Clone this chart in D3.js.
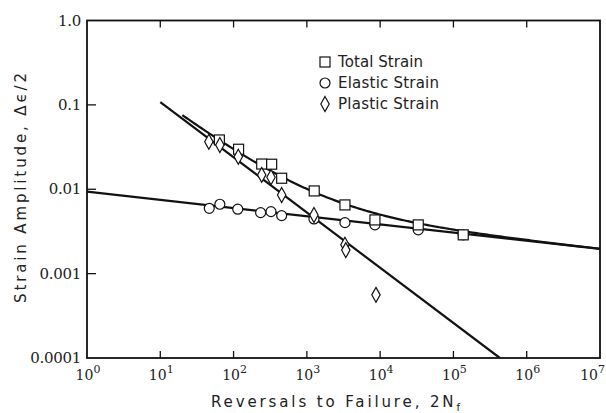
<!DOCTYPE html>
<html>
<head>
<meta charset="utf-8">
<script src="https://cdn.jsdelivr.net/npm/d3@7"></script>
<style>
  html, body { margin: 0; padding: 0; background: #fff; }
  svg { display: block; }
</style>
</head>
<body>
<svg id="chart" width="606" height="413"></svg>
<script>
// Strain-life data (reversals to failure vs strain amplitude)
const totalN = [64, 117, 242, 331, 453, 1260, 3310, 8490, 33100, 136000];
const totalStrain = [0.0384, 0.0298, 0.0199, 0.0198, 0.0135, 0.00955, 0.00652, 0.00433, 0.00378, 0.00288];

const elasticN = [46.6, 65, 114, 234, 324, 453, 1250, 3310, 8490, 33100, 136000];
const elasticStrain = [0.00595, 0.00664, 0.0058, 0.00528, 0.00543, 0.00487, 0.00445, 0.00402, 0.00378, 0.0033, 0.00288];

const plasticN = [46, 65, 116, 242, 324, 453, 1250, 3310, 3400, 8770];
const plasticStrain = [0.0366, 0.0335, 0.0243, 0.0148, 0.0139, 0.00856, 0.00496, 0.0022, 0.0019, 0.00056];

// Fitted power-law lines, given by their end points
const elasticLineN = [1, 1e7];
const elasticLineStrain = [0.00937, 0.00196];
const plasticLineN = [10, 4.3e5];
const plasticLineStrain = [0.108, 0.0001];
// Range over which the total (elastic + plastic) curve is drawn
const totalCurveN = [20, 1e7];

const xTickValues = [1, 10, 100, 1e3, 1e4, 1e5, 1e6, 1e7];
const xTickExponents = ["0", "1", "2", "3", "4", "5", "6", "7"];
const yTickValues = [0.0001, 0.001, 0.01, 0.1, 1];
const yTickLabels = ["0.0001", "0.001", "0.01", "0.1", "1.0"];

const legendLabels = ["Total Strain", "Elastic Strain", "Plastic Strain"];
const legendShapes = ["square", "circle", "diamond"];

const svg = d3.select("#chart");
const plotLeft = 87, plotRight = 600, plotTop = 20.5, plotBottom = 358;

const x = d3.scaleLog().domain([1, 1e7]).range([plotLeft, plotRight]);
const y = d3.scaleLog().domain([1e-4, 1]).range([plotBottom, plotTop]);

const serif = "'DejaVu Serif', 'Liberation Serif', serif";
const sans = "'DejaVu Sans', 'Liberation Sans', sans-serif";

// Clip so the fitted lines stay inside the frame
svg.append("defs").append("clipPath").attr("id", "plotClip")
  .append("rect").attr("x", plotLeft).attr("y", plotTop)
  .attr("width", plotRight - plotLeft).attr("height", plotBottom - plotTop);

// Power law through two points, evaluated in log space
function powerLaw(Ns, Ss) {
  const b = Math.log10(Ss[1] / Ss[0]) / Math.log10(Ns[1] / Ns[0]);
  return n => Ss[0] * Math.pow(n / Ns[0], b);
}
const elasticFn = powerLaw(elasticLineN, elasticLineStrain);
const plasticFn = powerLaw(plasticLineN, plasticLineStrain);

const line = d3.line().x(d => x(d[0])).y(d => y(d[1]));
const plot = svg.append("g").attr("clip-path", "url(#plotClip)");

// Elastic and plastic straight lines
plot.append("path")
  .attr("d", line(elasticLineN.map((n, i) => [n, elasticLineStrain[i]])))
  .attr("fill", "none").attr("stroke", "#111").attr("stroke-width", 2.2);
plot.append("path")
  .attr("d", line(plasticLineN.map((n, i) => [n, plasticLineStrain[i]])))
  .attr("fill", "none").attr("stroke", "#111").attr("stroke-width", 2.2);

// Total strain curve = elastic + plastic
const lo = Math.log10(totalCurveN[0]), hi = Math.log10(totalCurveN[1]);
const totalCurve = d3.range(0, 201).map(k => {
  const n = Math.pow(10, lo + (hi - lo) * k / 200);
  return [n, elasticFn(n) + plasticFn(n)];
});
plot.append("path").attr("d", line(totalCurve))
  .attr("fill", "none").attr("stroke", "#111").attr("stroke-width", 2.2);

// Frame
svg.append("rect").attr("x", plotLeft).attr("y", plotTop)
  .attr("width", plotRight - plotLeft).attr("height", plotBottom - plotTop)
  .attr("fill", "none").attr("stroke", "#111").attr("stroke-width", 1.8);

// Inward ticks on bottom/top (decades) and left
const tickLen = 7;
const innerX = xTickValues.slice(1, -1);
svg.append("g").selectAll("line").data(innerX).join("line")
  .attr("x1", d => x(d)).attr("x2", d => x(d))
  .attr("y1", plotBottom).attr("y2", plotBottom - tickLen)
  .attr("stroke", "#111").attr("stroke-width", 1.3);
svg.append("g").selectAll("line").data(innerX).join("line")
  .attr("x1", d => x(d)).attr("x2", d => x(d))
  .attr("y1", plotTop).attr("y2", plotTop + tickLen)
  .attr("stroke", "#111").attr("stroke-width", 1.3);
const innerY = yTickValues.slice(1, -1);
svg.append("g").selectAll("line").data(innerY).join("line")
  .attr("x1", plotLeft).attr("x2", plotLeft + tickLen + 2)
  .attr("y1", d => y(d)).attr("y2", d => y(d))
  .attr("stroke", "#111").attr("stroke-width", 1.3);

// X tick labels: 10 with superscript exponent (last one kept inside the page)
const xl = svg.append("g").attr("font-family", serif).attr("fill", "#222");
xTickValues.forEach((v, i) => {
  const last = i === xTickValues.length - 1;
  const t = xl.append("text").attr("x", last ? 605 : x(v) + 1).attr("y", 380)
    .attr("text-anchor", last ? "end" : "middle").attr("font-size", 14);
  t.append("tspan").text("10");
  t.append("tspan").attr("dy", -7).attr("font-size", 11).text(xTickExponents[i]);
});

// Y tick labels
svg.append("g").attr("font-family", serif).attr("fill", "#222")
  .selectAll("text").data(yTickValues).join("text")
  .attr("x", 81).attr("y", d => y(d) + 5)
  .attr("text-anchor", "end").attr("font-size", 15)
  .attr("letter-spacing", -0.3)
  .text((d, i) => yTickLabels[i]);

// Axis titles
const xt = svg.append("text").attr("x", 211).attr("y", 407)
  .attr("font-family", sans).attr("font-size", 15).attr("fill", "#222")
  .attr("textLength", 249).attr("lengthAdjust", "spacing");
xt.append("tspan").text("Reversals to Failure, 2N");
xt.append("tspan").attr("dy", 4).attr("font-size", 10).text("f");

svg.append("text")
  .attr("transform", "translate(26,303) rotate(-90)")
  .attr("font-family", sans).attr("font-size", 15).attr("fill", "#222")
  .attr("textLength", 230).attr("lengthAdjust", "spacing")
  .text("Strain Amplitude, \u0394\u03F5/2");

// Marker drawing
function drawMarker(g, shape, cx, cy) {
  const common = s => s.attr("fill", "#fff").attr("stroke", "#111").attr("stroke-width", 1.2);
  if (shape === "square") {
    common(g.append("rect").attr("x", cx - 5).attr("y", cy - 5).attr("width", 10).attr("height", 10));
  } else if (shape === "circle") {
    common(g.append("circle").attr("cx", cx).attr("cy", cy).attr("r", 5));
  } else {
    common(g.append("path").attr("d", `M${cx},${cy - 7.5}L${cx + 4.2},${cy}L${cx},${cy + 7.5}L${cx - 4.2},${cy}Z`));
  }
}

const marks = svg.append("g");
elasticN.forEach((n, i) => drawMarker(marks, "circle", x(n), y(elasticStrain[i])));
totalN.forEach((n, i) => drawMarker(marks, "square", x(n), y(totalStrain[i])));
plasticN.forEach((n, i) => drawMarker(marks, "diamond", x(n), y(plasticStrain[i])));

// Legend
const legendWidths = [85, 101, 101];
const lg = svg.append("g");
legendLabels.forEach((lab, i) => {
  const cy = 62 + i * 21;
  drawMarker(lg, legendShapes[i], 325, cy);
  lg.append("text").attr("x", 338).attr("y", cy + 5)
    .attr("font-family", sans).attr("font-size", 15).attr("fill", "#222")
    .attr("textLength", legendWidths[i]).attr("lengthAdjust", "spacing")
    .text(lab);
});
</script>
</body>
</html>
